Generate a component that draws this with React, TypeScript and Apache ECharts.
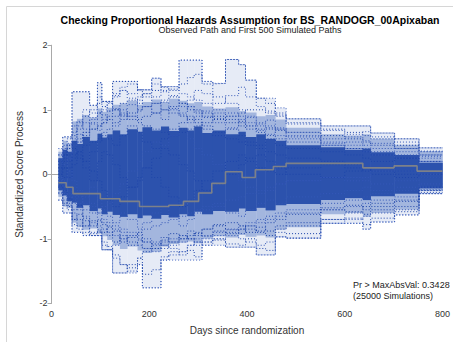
import React, { useEffect, useRef } from "react";
import * as echarts from "echarts";

// Step times (days) at which the simulated score paths jump
const T = [14, 23, 32, 42, 52, 64, 78, 94, 103, 114, 125, 140, 155, 176, 186, 205, 224, 240, 261, 278, 292, 308, 330, 356, 383, 397, 419, 438, 458, 480, 551, 600, 637, 653, 702, 752, 800];

// Envelopes of the 500 simulated paths
const EXT_HI = [0.40, 0.58, 0.58, 1.28, 1.28, 1.28, 1.07, 1.42, 1.13, 1.13, 1.44, 1.44, 1.44, 1.31, 1.31, 1.49, 1.36, 1.36, 1.77, 1.77, 1.77, 1.44, 1.41, 1.78, 1.70, 1.46, 1.18, 1.18, 1.03, 0.86, 0.75, 0.75, 0.75, 0.64, 0.55, 0.41, 0.41];
const EXT_LO = [-0.40, -0.60, -0.60, -0.90, -0.90, -0.95, -0.95, -0.95, -1.17, -1.17, -1.53, -1.53, -1.53, -1.40, -1.76, -1.76, -1.33, -1.33, -1.33, -1.33, -1.33, -1.10, -1.10, -1.13, -1.13, -1.13, -1.25, -1.25, -0.97, -0.99, -0.76, -0.76, -0.85, -0.74, -0.63, -0.30, -0.30];
const MID_HI = [0.35, 0.52, 0.48, 0.82, 0.86, 0.92, 0.88, 1.02, 0.97, 1.03, 1.08, 1.10, 1.14, 1.08, 1.12, 1.16, 1.12, 1.17, 1.14, 1.10, 1.12, 1.05, 1.02, 1.04, 0.98, 0.96, 0.90, 0.92, 0.85, 0.72, 0.62, 0.60, 0.62, 0.55, 0.46, 0.36, 0.36];
const MID_LO = [-0.35, -0.50, -0.52, -0.75, -0.82, -0.86, -0.84, -0.92, -0.96, -1.02, -1.10, -1.16, -1.12, -1.18, -1.22, -1.20, -1.12, -1.08, -1.06, -1.04, -1.07, -1.00, -0.96, -0.98, -0.94, -0.97, -0.95, -0.98, -0.86, -0.82, -0.62, -0.60, -0.66, -0.60, -0.55, -0.26, -0.26];
const CORE_HI = [0.25, 0.38, 0.35, 0.52, 0.47, 0.58, 0.52, 0.63, 0.57, 0.62, 0.68, 0.62, 0.70, 0.66, 0.73, 0.68, 0.74, 0.67, 0.72, 0.68, 0.74, 0.64, 0.68, 0.62, 0.66, 0.58, 0.62, 0.55, 0.52, 0.45, 0.42, 0.38, 0.40, 0.34, 0.30, 0.18, 0.18];
const CORE_LO = [-0.25, -0.33, -0.42, -0.44, -0.52, -0.48, -0.57, -0.53, -0.62, -0.58, -0.63, -0.66, -0.62, -0.68, -0.64, -0.69, -0.63, -0.67, -0.62, -0.65, -0.58, -0.62, -0.57, -0.58, -0.53, -0.57, -0.52, -0.56, -0.48, -0.46, -0.40, -0.37, -0.40, -0.34, -0.30, -0.22, -0.22];

// A sample of individual simulated paths (values at the step times T)
const PATH_01 = [0.20, 0.35, 0.40, 0.55, 0.70, 0.80, 0.85, 0.95, 1.00, 1.10, 1.20, 1.30, 1.25, 1.31, 1.31, 1.40, 1.30, 1.32, 1.77, 1.77, 1.77, 1.44, 1.20, 1.10, 1.00, 0.90, 0.80, 0.75, 0.70, 0.60, 0.50, 0.45, 0.40, 0.35, 0.30, 0.25, 0.25];
const PATH_02 = [0.10, 0.20, 0.30, 0.40, 0.50, 0.60, 0.70, 0.75, 0.80, 0.90, 1.00, 1.10, 1.15, 1.20, 1.25, 1.30, 1.35, 1.30, 1.40, 1.50, 1.55, 1.40, 1.41, 1.78, 1.70, 1.46, 1.18, 1.10, 0.95, 0.80, 0.70, 0.65, 0.60, 0.55, 0.45, 0.35, 0.35];
const PATH_03 = [-0.15, -0.30, -0.45, -0.60, -0.70, -0.80, -0.90, -0.95, -1.10, -1.17, -1.30, -1.40, -1.50, -1.40, -1.76, -1.76, -1.33, -1.25, -1.20, -1.10, -1.00, -0.95, -0.90, -0.85, -0.80, -0.75, -0.70, -0.65, -0.60, -0.55, -0.45, -0.40, -0.35, -0.30, -0.25, -0.20, -0.20];
const PATH_04 = [-0.20, -0.40, -0.50, -0.70, -0.80, -0.90, -0.95, -0.90, -1.17, -1.17, -1.53, -1.53, -1.40, -1.30, -1.20, -1.15, -1.10, -1.05, -1.00, -0.95, -0.90, -0.85, -0.80, -0.75, -0.80, -0.85, -0.90, -0.95, -0.85, -0.80, -0.70, -0.60, -0.50, -0.45, -0.40, -0.25, -0.25];
const PATH_05 = [-0.05, -0.10, -0.20, -0.30, -0.35, -0.45, -0.50, -0.60, -0.70, -0.75, -0.80, -0.85, -0.90, -0.95, -1.00, -1.05, -1.10, -1.15, -1.20, -1.10, -1.05, -1.10, -1.00, -1.13, -1.13, -1.13, -1.25, -1.25, -0.97, -0.99, -0.76, -0.70, -0.65, -0.60, -0.55, -0.30, -0.30];
const PATH_06 = [0.15, 0.30, 0.45, 0.60, 0.80, 0.90, 1.00, 1.10, 1.13, 1.13, 1.44, 1.44, 1.44, 1.31, 1.20, 1.10, 1.00, 0.95, 0.90, 0.85, 0.80, 0.70, 0.60, 0.55, 0.50, 0.45, 0.40, 0.35, 0.30, 0.25, 0.20, 0.15, 0.10, 0.05, 0.00, -0.05, -0.05];
const PATH_07 = [0.05, 0.15, 0.25, 0.35, 0.50, 0.65, 0.80, 0.95, 1.05, 1.12, 1.25, 1.35, 1.40, 1.31, 1.31, 1.49, 1.36, 1.36, 1.25, 1.20, 1.15, 1.10, 1.00, 0.95, 0.90, 0.80, 0.75, 0.70, 0.60, 0.55, 0.45, 0.40, 0.35, 0.30, 0.25, 0.20, 0.20];
const PATH_08 = [0.30, 0.58, 0.58, 1.28, 1.28, 1.28, 1.07, 1.42, 1.13, 1.13, 1.00, 0.90, 0.85, 0.80, 0.75, 0.70, 0.65, 0.60, 0.65, 0.70, 0.75, 0.80, 0.85, 0.80, 0.75, 0.70, 0.65, 0.60, 0.55, 0.50, 0.45, 0.40, 0.35, 0.30, 0.25, 0.20, 0.20];
const PATH_09 = [-0.40, -0.60, -0.60, -0.90, -0.90, -0.95, -0.95, -0.95, -1.17, -1.17, -1.10, -1.00, -0.95, -0.90, -0.85, -0.80, -0.75, -0.70, -0.65, -0.60, -0.55, -0.50, -0.45, -0.40, -0.35, -0.30, -0.25, -0.20, -0.15, -0.10, -0.05, -0.05, -0.10, -0.15, -0.10, -0.05, -0.05];
const PATH_10 = [0.10, 0.25, 0.40, 0.50, 0.55, 0.65, 0.70, 0.75, 0.80, 0.85, 0.90, 0.95, 0.90, 0.85, 0.90, 0.95, 1.00, 1.05, 1.10, 1.05, 1.00, 0.95, 0.90, 0.85, 0.80, 0.75, 0.70, 0.72, 0.68, 0.65, 0.60, 0.55, 0.50, 0.45, 0.40, 0.30, 0.30];
const PATH_11 = [-0.10, -0.20, -0.30, -0.40, -0.50, -0.55, -0.60, -0.70, -0.75, -0.80, -0.85, -0.90, -0.95, -1.00, -1.05, -1.10, -1.05, -1.00, -0.95, -1.00, -1.05, -1.00, -0.95, -0.90, -0.85, -0.80, -0.75, -0.70, -0.65, -0.60, -0.55, -0.50, -0.45, -0.40, -0.35, -0.25, -0.25];
const PATH_12 = [0.05, 0.10, -0.05, 0.15, 0.25, 0.10, -0.10, 0.20, 0.35, 0.30, 0.15, -0.05, -0.20, -0.10, 0.10, 0.25, 0.40, 0.30, 0.15, 0.05, -0.10, -0.25, -0.15, 0.00, 0.15, 0.25, 0.30, 0.20, 0.10, 0.00, -0.05, 0.05, 0.10, 0.00, -0.05, 0.00, 0.00];
const PATH_13 = [-0.05, -0.15, 0.05, -0.10, -0.25, -0.35, -0.20, -0.40, -0.55, -0.45, -0.30, -0.15, 0.05, 0.20, 0.35, 0.50, 0.45, 0.60, 0.70, 0.55, 0.40, 0.30, 0.15, 0.05, -0.10, -0.20, -0.30, -0.25, -0.15, -0.10, -0.05, -0.10, -0.05, 0.05, 0.05, 0.00, 0.00];
const PATH_14 = [0.00, 0.10, 0.20, 0.30, 0.35, 0.45, 0.50, 0.55, 0.65, 0.70, 0.80, 0.85, 0.95, 1.00, 1.05, 1.10, 1.15, 1.20, 1.10, 1.00, 0.95, 0.90, 0.86, 0.90, 0.95, 1.00, 1.00, 0.95, 0.90, 0.86, 0.75, 0.75, 0.75, 0.64, 0.55, 0.41, 0.41];
const PATH_15 = [-0.10, -0.25, -0.35, -0.45, -0.55, -0.65, -0.75, -0.80, -0.85, -0.90, -0.95, -1.00, -1.05, -1.10, -1.15, -1.20, -1.15, -1.10, -1.05, -1.00, -1.10, -1.05, -1.00, -0.95, -1.00, -1.05, -1.10, -1.05, -0.97, -0.99, -0.76, -0.76, -0.85, -0.74, -0.63, -0.30, -0.30];
const PATH_16 = [0.20, 0.30, 0.45, 0.40, 0.30, 0.20, 0.35, 0.50, 0.60, 0.55, 0.45, 0.60, 0.75, 0.65, 0.50, 0.40, 0.55, 0.70, 0.80, 0.90, 0.85, 0.75, 0.65, 0.70, 0.60, 0.50, 0.45, 0.55, 0.45, 0.40, 0.35, 0.30, 0.25, 0.20, 0.25, 0.20, 0.20];
const PATH_17 = [-0.20, -0.30, -0.20, -0.35, -0.45, -0.30, -0.45, -0.60, -0.50, -0.65, -0.75, -0.60, -0.70, -0.85, -0.75, -0.60, -0.50, -0.65, -0.80, -0.70, -0.60, -0.55, -0.50, -0.60, -0.65, -0.55, -0.45, -0.40, -0.45, -0.35, -0.30, -0.25, -0.20, -0.25, -0.20, -0.15, -0.15];
const PATH_18 = [0.00, -0.05, 0.10, 0.25, 0.35, 0.20, 0.05, -0.10, -0.25, -0.40, -0.50, -0.35, -0.20, -0.05, 0.10, -0.05, -0.20, -0.35, -0.50, -0.40, -0.25, -0.10, 0.05, 0.20, 0.30, 0.20, 0.10, 0.05, 0.00, 0.10, 0.15, 0.10, 0.05, 0.10, 0.05, 0.05, 0.05];
const PATH_19 = [0.30, 0.45, 0.48, 0.75, 0.82, 0.70, 0.88, 0.95, 0.85, 0.98, 1.02, 0.92, 1.08, 0.98, 1.05, 0.95, 1.12, 1.02, 0.95, 1.05, 0.98, 0.88, 0.95, 0.90, 0.82, 0.88, 0.78, 0.84, 0.72, 0.65, 0.55, 0.58, 0.52, 0.48, 0.40, 0.30, 0.30];
const PATH_20 = [-0.30, -0.45, -0.48, -0.70, -0.62, -0.80, -0.72, -0.86, -0.90, -0.82, -1.05, -0.95, -1.10, -1.02, -1.15, -1.08, -0.98, -1.05, -0.95, -1.00, -0.92, -0.96, -0.88, -0.92, -0.85, -0.90, -0.82, -0.88, -0.80, -0.75, -0.55, -0.58, -0.62, -0.55, -0.50, -0.24, -0.24];
const PATH_21 = [0.15, 0.28, 0.22, 0.45, 0.62, 0.55, 0.78, 0.68, 0.92, 0.85, 0.75, 1.00, 0.90, 1.15, 1.05, 0.95, 0.85, 1.00, 0.92, 0.80, 0.90, 0.98, 0.80, 0.72, 0.85, 0.75, 0.68, 0.62, 0.70, 0.58, 0.48, 0.50, 0.45, 0.40, 0.35, 0.28, 0.28];
const PATH_22 = [-0.18, -0.25, -0.38, -0.55, -0.48, -0.68, -0.80, -0.72, -0.78, -0.95, -0.88, -1.05, -0.98, -0.90, -1.05, -1.15, -1.02, -0.92, -1.00, -0.88, -0.95, -0.85, -0.78, -0.86, -0.92, -0.80, -0.88, -0.75, -0.70, -0.62, -0.52, -0.48, -0.55, -0.50, -0.42, -0.20, -0.20];
const PATH_23 = [0.22, 0.40, 0.55, 0.65, 0.75, 1.00, 0.95, 1.20, 1.05, 0.98, 1.22, 1.30, 1.18, 1.10, 1.25, 1.20, 1.28, 1.22, 1.05, 1.15, 1.30, 1.25, 1.10, 1.22, 1.35, 1.20, 1.05, 0.98, 0.92, 0.78, 0.68, 0.62, 0.66, 0.58, 0.50, 0.36, 0.36];
const PATH_24 = [-0.28, -0.48, -0.55, -0.78, -0.85, -0.72, -0.92, -0.88, -1.05, -1.12, -1.25, -1.40, -1.45, -1.30, -1.55, -1.48, -1.28, -1.20, -1.25, -1.18, -1.28, -1.05, -1.02, -1.08, -1.10, -1.00, -1.15, -1.18, -0.90, -0.92, -0.70, -0.68, -0.78, -0.68, -0.58, -0.28, -0.28];
const PATHS = [PATH_01, PATH_02, PATH_03, PATH_04, PATH_05, PATH_06, PATH_07, PATH_08, PATH_09, PATH_10, PATH_11, PATH_12, PATH_13, PATH_14, PATH_15, PATH_16, PATH_17, PATH_18, PATH_19, PATH_20, PATH_21, PATH_22, PATH_23, PATH_24];

// Observed score path
const OBS_T = [14, 30, 44, 82, 100, 140, 180, 240, 270, 301, 328, 356, 390, 417, 454, 480, 551, 637, 701, 748, 800];
const OBS_V = [-0.13, -0.20, -0.30, -0.30, -0.38, -0.42, -0.50, -0.48, -0.42, -0.29, -0.14, 0.04, -0.05, 0.07, 0.12, 0.17, 0.17, 0.10, 0.13, 0.05, 0.05];

const Y_TICKS = [-2, -1, 0, 1, 2];
const X_TICKS = [0, 200, 400, 600, 800];

const TITLE = "Checking Proportional Hazards Assumption for BS_RANDOGR_00Apixaban";
const SUBTITLE = "Observed Path and First 500 Simulated Paths";
const NOTE_1 = "Pr > MaxAbsVal: 0.3428";
const NOTE_2 = "(25000 Simulations)";

const FONT = "'Liberation Sans', Arial, sans-serif";

function bandSeries(name: string, lo: number[], hi: number[], color: string, z: number) {
  const data = [] as number[][];
  for (let i = 0; i < T.length - 1; i++) data.push([T[i], T[i + 1], lo[i], hi[i]]);
  return {
    name,
    type: "custom",
    silent: true,
    z,
    encode: { x: [0, 1], y: [2, 3] },
    data,
    renderItem: (_p: any, api: any) => {
      const a = api.coord([api.value(0), api.value(3)]);
      const b = api.coord([api.value(1), api.value(2)]);
      return {
        type: "rect",
        shape: { x: a[0], y: a[1], width: b[0] - a[0] + 0.3, height: b[1] - a[1] },
        style: { fill: color },
      };
    },
  };
}

export default function App() {
  const ref = useRef<HTMLDivElement>(null);
  useEffect(() => {
    document.body.style.margin = "0";
    const chart = echarts.init(ref.current!, null, { renderer: "svg" });
    const pathSeries = PATHS.map((p, k) => ({
      name: "sim" + k,
      type: "line",
      step: "end",
      showSymbol: false,
      silent: true,
      z: 5,
      data: T.map((t, i) => [t, p[i]]),
      lineStyle: { width: 1, type: [1, 2], color: k % 2 ? "#1f46aa" : "#3558b8" },
    }));
    const envSeries = [EXT_HI, EXT_LO].map((p, k) => ({
      name: "env" + k,
      type: "line",
      step: "end",
      showSymbol: false,
      silent: true,
      z: 5,
      data: T.map((t, i) => [t, p[i]]),
      lineStyle: { width: 1, type: [1, 2], color: "#4466c0" },
    }));
    const axisColor = "#a9a9a9";
    chart.setOption({
      animation: false,
      grid: { left: 51.5, right: 6.5, top: 45.3, bottom: 38.7, containLabel: false },
      xAxis: [
        {
          type: "value",
          min: X_TICKS[0],
          max: X_TICKS[X_TICKS.length - 1],
          interval: 200,
          offset: 1.7,
          name: "Days since randomization",
          nameLocation: "middle",
          nameGap: 20,
          nameTextStyle: { fontFamily: FONT, fontSize: 10, color: "#333" },
          axisLine: { show: true, lineStyle: { color: axisColor } },
          axisTick: { show: true, length: 4, lineStyle: { color: axisColor } },
          axisLabel: { fontFamily: FONT, fontSize: 9, color: "#333", margin: 4 },
          splitLine: { show: false },
        },
        {
          type: "value",
          position: "top",
          min: X_TICKS[0],
          max: X_TICKS[X_TICKS.length - 1],
          interval: 200,
          axisLine: { show: true, lineStyle: { color: axisColor } },
          axisTick: { show: false },
          axisLabel: { show: false },
          splitLine: { show: false },
        },
      ],
      yAxis: [
        {
          type: "value",
          min: Y_TICKS[0],
          max: Y_TICKS[Y_TICKS.length - 1],
          interval: 1,
          name: "Standardized Score Process",
          nameLocation: "middle",
          nameGap: 27,
          nameTextStyle: { fontFamily: FONT, fontSize: 10, color: "#333" },
          axisLine: { show: true, lineStyle: { color: axisColor } },
          axisTick: { show: true, length: 4, lineStyle: { color: axisColor } },
          axisLabel: { fontFamily: FONT, fontSize: 9, color: "#333", margin: 4 },
          splitLine: { show: false },
        },
        {
          type: "value",
          position: "right",
          min: Y_TICKS[0],
          max: Y_TICKS[Y_TICKS.length - 1],
          interval: 1,
          axisLine: { show: true, lineStyle: { color: axisColor } },
          axisTick: { show: false },
          axisLabel: { show: false },
          splitLine: { show: false },
        },
      ],
      series: [
        bandSeries("outer", EXT_LO, EXT_HI, "#e6ebf6", 1),
        bandSeries("mid", MID_LO, MID_HI, "#a3b6de", 2),
        bandSeries("core", CORE_LO, CORE_HI, "#2c52ad", 3),
        ...envSeries,
        ...pathSeries,
        {
          name: "observed",
          type: "line",
          step: "end",
          showSymbol: false,
          silent: true,
          z: 10,
          data: OBS_T.map((t, i) => [t, OBS_V[i]]),
          lineStyle: { width: 1.6, color: "#7d8189" },
        },
      ],
      graphic: [
        {
          type: "rect",
          shape: { x: 6.5, y: 6.5, width: 470, height: 360 },
          style: { fill: "none", stroke: "#d6d6d6", lineWidth: 1 },
          silent: true,
        },
        {
          type: "text",
          x: 250,
          y: 19.5,
          style: { text: TITLE, fontFamily: FONT, fontSize: 10.5, fontWeight: "bold", fill: "#000", align: "center", verticalAlign: "middle" },
        },
        {
          type: "text",
          x: 250,
          y: 30.3,
          style: { text: SUBTITLE, fontFamily: FONT, fontSize: 9, fill: "#222", align: "center", verticalAlign: "middle" },
        },
        {
          type: "text",
          x: 353,
          y: 285,
          z: 20,
          style: { text: NOTE_1, fontFamily: FONT, fontSize: 9, fill: "#222", align: "left", verticalAlign: "middle" },
        },
        {
          type: "text",
          x: 353,
          y: 296,
          z: 20,
          style: { text: NOTE_2, fontFamily: FONT, fontSize: 9, fill: "#222", align: "left", verticalAlign: "middle" },
        },
      ],
    });
    return () => chart.dispose();
  }, []);
  return <div ref={ref} style={{ position: "absolute", left: 0, top: 0, width: 453, height: 342 }} />;
}
